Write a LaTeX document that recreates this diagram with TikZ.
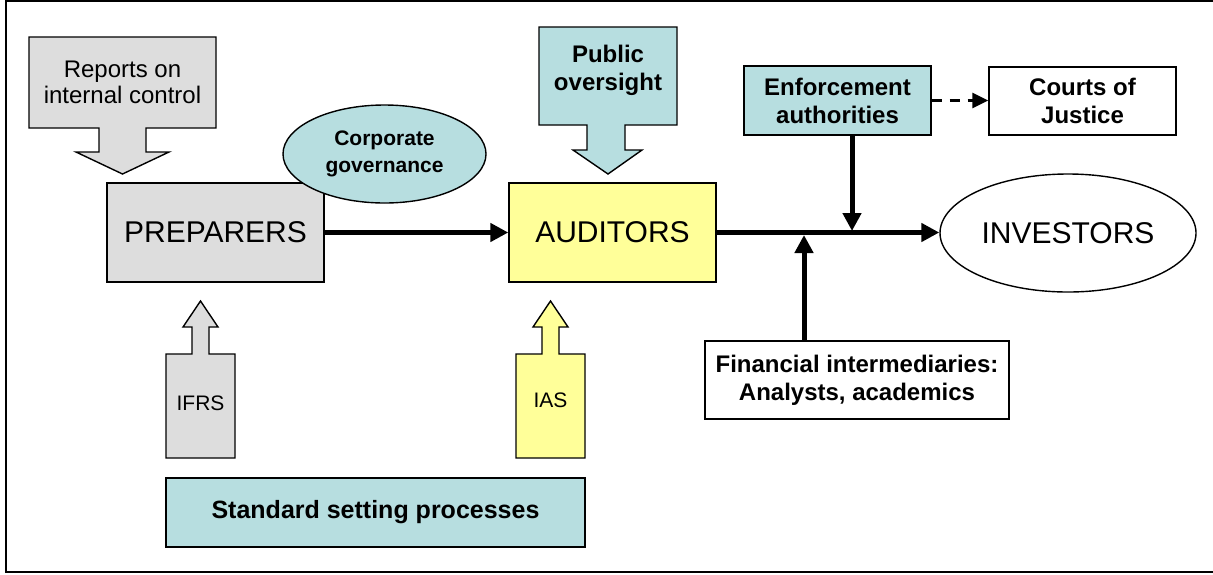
\documentclass[tikz,border=0pt]{standalone}
\usepackage{fontspec}
\setmainfont{Liberation Sans}
\usetikzlibrary{arrows.meta}
\usetikzlibrary{shapes.geometric}
\usetikzlibrary{calc}
\definecolor{boxgray}{HTML}{DDDDDD}
\definecolor{boxblue}{HTML}{B7DEE0}
\definecolor{boxyellow}{HTML}{FFFF99}

\begin{document}
\begin{tikzpicture}[
    x=0.5pt, y=-0.5pt,
    frame line/.style={line width=1.1pt},
    box line/.style={draw=black, line width=0.7pt},
    flow arrow/.style={line width=2.5pt, -{Triangle[length=9pt,width=9pt]}},
    dashed arrow/.style={line width=1.4pt, dash pattern=on 5pt off 4pt, -{Triangle[length=8pt,width=7.5pt]}},
    big text/.style={font=\fontsize{15}{18}\selectfont},
    plain text/.style={font=\fontsize{12}{13}\selectfont, align=center},
    bold text/.style={font=\bfseries\fontsize{12}{14}\selectfont, align=center},
    every node/.style={color=black, inner sep=0pt}
    ]

    \useasboundingbox (0,0) rectangle (1213,574);
    \clip (0,0) rectangle (1213,574);
    % frame
    \draw[frame line] (6,1) rectangle (1230,572);

    % callout arrows
    \draw[box line, fill=boxgray] (29,37) -- (216,37) -- (216,128) -- (146,128) -- (146,152) -- (169,152)
        -- (122.5,174) -- (76,152) -- (99,152) -- (99,128) -- (29,128) -- cycle;
    \node[plain text] (rep) at (122.5,82) {Reports on\\internal control};
    \draw[box line, fill=boxblue] (539,27) -- (677,27) -- (677,125) -- (625,125) -- (625,150) -- (642,150)
        -- (608,174) -- (573,150) -- (587,150) -- (587,125) -- (539,125) -- cycle;
    \node[bold text] (pub) at (608,70) {Public\\oversight};
    \draw[box line, fill=boxgray] (166,458) -- (235,458) -- (235,354) -- (209,354) -- (209,327) -- (218,327)
        -- (200.5,301) -- (183,327) -- (192,327) -- (192,354) -- (166,354) -- cycle;
    \node[plain text, font=\fontsize{10.5}{12}\selectfont] (ifrs) at (200.5,403) {IFRS};
    \draw[box line, fill=boxyellow] (516,458) -- (585,458) -- (585,354) -- (559,354) -- (559,327) -- (568,327)
        -- (550.5,301) -- (533,327) -- (542,327) -- (542,354) -- (516,354) -- cycle;
    \node[plain text, font=\fontsize{10.5}{12}\selectfont] (ias) at (550.5,400) {IAS};

    % boxes
    \node[box line, fill=boxgray, minimum width=108.5pt, minimum height=49.5pt, big text] (prep) at (215.5,232.5) {PREPARERS};
    \node[box line, fill=boxblue, shape=ellipse, minimum width=101.5pt, minimum height=49pt,
        bold text, font=\bfseries\fontsize{10.5}{13.5}\selectfont] (corp) at (384.5,154) {Corporate\\governance};
    \node[box line, fill=boxyellow, minimum width=103.5pt, minimum height=49.5pt, big text] (aud) at (612.5,232.5) {AUDITORS};
    \node[box line, fill=boxblue, minimum width=93.5pt, minimum height=34.5pt, bold text] (enf) at (837.5,100.5) {Enforcement\\authorities};
    \node[box line, fill=white, minimum width=93.5pt, minimum height=34pt, bold text] (courts) at (1082.5,101) {Courts of\\Justice};
    \node[box line, fill=white, shape=ellipse, minimum width=128pt, minimum height=59pt, big text] (inv) at (1068,233) {INVESTORS};
    \node[box line, fill=white, minimum width=152pt, minimum height=39pt, bold text] (fin) at (857,380) {Financial intermediaries:\\Analysts, academics};
    \node[box line, fill=boxblue, minimum width=209.5pt, minimum height=34.5pt, bold text,
        font=\bfseries\fontsize{12.5}{14}\selectfont] (std) at (375.5,512.5) {Standard setting processes};

    % junctions on the main line
    \coordinate (jE) at (852,231);
    \coordinate (jF) at (804,235);

    % arrows
    \draw[flow arrow] (prep.east) -- (aud.west);
    \draw[flow arrow] (aud.east) -- (aud.east -| inv.west);
    \draw[flow arrow] (enf.south -| jE) -- (jE);
    \draw[flow arrow] (fin.north -| jF) -- (jF);
    \draw[dashed arrow] (enf.east) -- (enf.east -| courts.west);

\end{tikzpicture}
\end{document}
